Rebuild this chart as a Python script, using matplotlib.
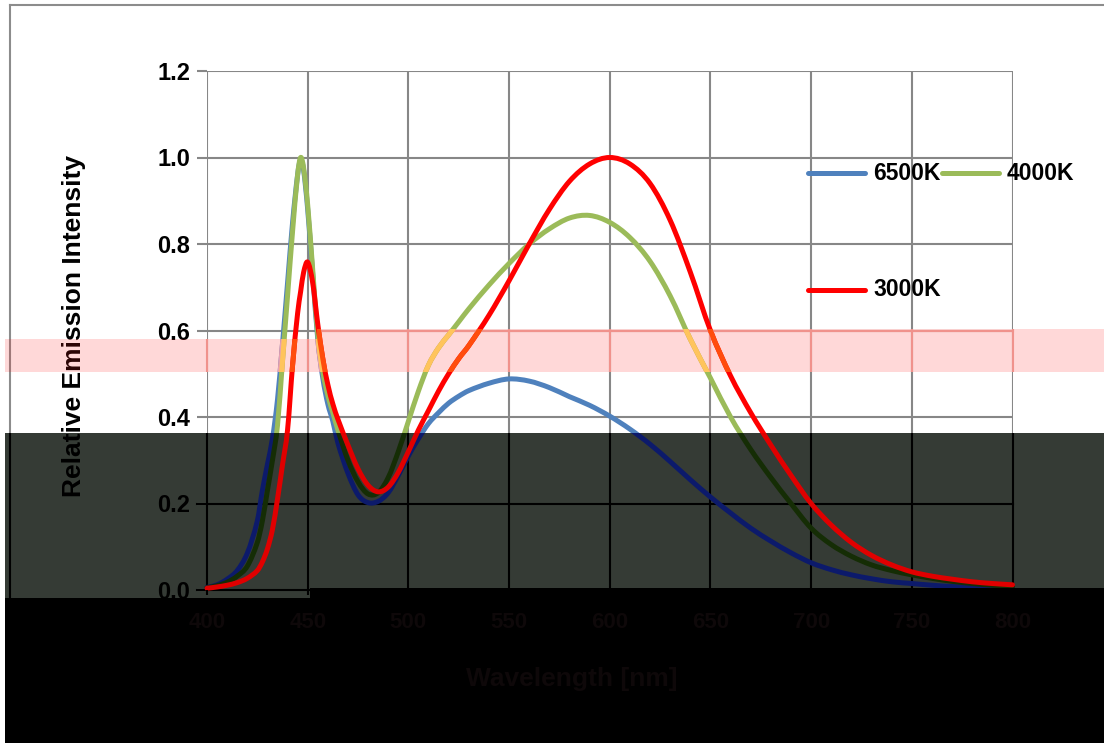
import matplotlib
matplotlib.use("Agg")
import matplotlib.pyplot as plt
from matplotlib.lines import Line2D
from matplotlib.patches import Rectangle, PathPatch
from matplotlib.path import Path
from matplotlib.ticker import FormatStrFormatter
from matplotlib.transforms import Bbox, TransformedBbox

# ---- spectral data (relative emission intensity vs wavelength) ----
wavelength = [400, 405, 410, 415, 420, 425, 427.5, 430, 432.5, 435,
              437.5, 440, 442.5, 445, 446.5, 448, 450, 452.5, 455, 457.5,
              460, 462.5, 465, 470, 475, 480, 485, 490, 495, 500,
              505, 510, 515, 520, 525, 530, 540, 550, 560, 570,
              580, 590, 600, 610, 620, 630, 640, 650, 660, 670,
              680, 690, 700, 710, 720, 730, 740, 750, 760, 770,
              780, 790, 800]

cct_6500 = [0.006, 0.012, 0.025, 0.045, 0.085, 0.16, 0.23, 0.29, 0.35, 0.44,
            0.57, 0.71, 0.85, 0.96, 0.995, 0.97, 0.88, 0.73, 0.58, 0.49,
            0.43, 0.39, 0.34, 0.27, 0.22, 0.202, 0.205, 0.225, 0.265, 0.31,
            0.35, 0.385, 0.41, 0.432, 0.448, 0.461, 0.478, 0.488, 0.483, 0.468,
            0.447, 0.427, 0.402, 0.372, 0.337, 0.297, 0.255, 0.215, 0.178, 0.143,
            0.113, 0.086, 0.063, 0.047, 0.035, 0.026, 0.019, 0.015, 0.011, 0.008,
            0.006, 0.004, 0.003]

cct_4000 = [0.005, 0.01, 0.018, 0.032, 0.055, 0.11, 0.16, 0.23, 0.30, 0.38,
            0.53, 0.68, 0.83, 0.96, 1.0, 0.975, 0.89, 0.74, 0.59, 0.505,
            0.45, 0.41, 0.37, 0.30, 0.25, 0.222, 0.225, 0.26, 0.32, 0.39,
            0.46, 0.52, 0.56, 0.59, 0.62, 0.65, 0.705, 0.755, 0.80, 0.835,
            0.86, 0.866, 0.85, 0.815, 0.76, 0.68, 0.58, 0.49, 0.40, 0.325,
            0.26, 0.20, 0.143, 0.105, 0.078, 0.058, 0.045, 0.035, 0.027, 0.02,
            0.015, 0.011, 0.008]

cct_3000 = [0.004, 0.007, 0.011, 0.017, 0.027, 0.045, 0.065, 0.095, 0.14, 0.21,
            0.29, 0.37, 0.52, 0.64, 0.69, 0.735, 0.758, 0.71, 0.615, 0.535,
            0.475, 0.43, 0.395, 0.335, 0.28, 0.242, 0.227, 0.238, 0.272, 0.32,
            0.37, 0.415, 0.46, 0.50, 0.535, 0.565, 0.635, 0.715, 0.80, 0.88,
            0.945, 0.985, 1.0, 0.985, 0.94, 0.855, 0.735, 0.60, 0.495, 0.41,
            0.335, 0.265, 0.20, 0.15, 0.11, 0.08, 0.058, 0.042, 0.032, 0.025,
            0.019, 0.015, 0.012]

series_names = ["6500K", "4000K", "3000K"]
x_ticks = [400, 450, 500, 550, 600, 650, 700, 750, 800]
y_ticks = [0.0, 0.2, 0.4, 0.6, 0.8, 1.0, 1.2]

# ---- styling ----
W, H = 1104, 743
SANS = ["Liberation Sans", "DejaVu Sans"]
plt.rcParams["font.family"] = SANS
plt.rcParams["font.weight"] = "bold"

line_colors = ["#4f81bd", "#9bbb59", "#ff0000"]
shade_colors = ["#0c1a6b", "#152d05", "#e00000"]     # inside the dark panel
tint_colors = ["#e6a0b4", "#ffc45c", "#ff4d0d"]      # inside the pink band
grid_gray = "#878787"
faint = "#0e0809"
LW = 3.6

fig = plt.figure(figsize=(W / 100, H / 100), dpi=100)
fig.patch.set_facecolor("white")
ax = fig.add_axes([207 / W, 1 - 590 / H, 805.5 / W, 519 / H])
ax.set_xlim(400, 800)
ax.set_ylim(0, 1.2)
ax.set_xticks(x_ticks)
ax.set_yticks(y_ticks)
ax.yaxis.set_major_formatter(FormatStrFormatter("%.1f"))
for sp in ax.spines.values():
    sp.set_visible(False)
ax.set_axisbelow(True)
ax.yaxis.set_zorder(3.5)
ax.xaxis.set_zorder(6)

ax.tick_params(axis="y", direction="out", length=7.2, width=1.5,
               color=grid_gray, pad=5, labelsize=17, labelcolor="black")
ax.tick_params(axis="x", direction="out", length=3.5, width=1.5,
               color="black", pad=12, labelsize=16, labelcolor=faint)

series = [cct_6500, cct_4000, cct_3000]


def smooth_path(xs, ys):
    """Piecewise cubic (Hermite) curve through every data point, as a Bezier path."""
    n = len(xs)
    slopes = []
    for i in range(n):
        a = max(i - 1, 0)
        b = min(i + 1, n - 1)
        slopes.append((ys[b] - ys[a]) / (xs[b] - xs[a]))
    verts = [(xs[0], ys[0])]
    codes = [Path.MOVETO]
    for i in range(n - 1):
        h = xs[i + 1] - xs[i]
        verts += [(xs[i] + h / 3, ys[i] + slopes[i] * h / 3),
                  (xs[i + 1] - h / 3, ys[i + 1] - slopes[i + 1] * h / 3),
                  (xs[i + 1], ys[i + 1])]
        codes += [Path.CURVE4] * 3
    return Path(verts, codes)


def px_box(x0, y0, x1, y1):
    return TransformedBbox(Bbox.from_extents(x0 / W, 1 - y1 / H, x1 / W, 1 - y0 / H),
                           fig.transFigure)


def px_rect(x0, y0, x1, y1, z, **kw):
    r = Rectangle((x0 / W, 1 - y1 / H), (x1 - x0) / W, (y1 - y0) / H,
                  transform=fig.transFigure, zorder=z, linewidth=0, **kw)
    ax.add_artist(r)
    r.set_clip_on(False)
    return r


def add_clipped(artist, box):
    ax.add_artist(artist)
    artist.set_clip_path(None)
    if box is None:
        artist.set_clip_on(False)
    else:
        artist.set_clip_box(box)
    return artist


def grid_lines(color, z, box, lw=1.5):
    ext = -10 / 805.5
    for xv in ax.get_xticks():
        add_clipped(Line2D([xv, xv], [0, 1], transform=ax.get_xaxis_transform(),
                           color=color, lw=lw, zorder=z), box)
    for yv in ax.get_yticks():
        add_clipped(Line2D([ext, 1], [yv, yv], transform=ax.get_yaxis_transform(),
                           color=color, lw=lw, zorder=z), box)


def curves(colors, z, box):
    for vals, c in zip(series, colors):
        patch = PathPatch(smooth_path(wavelength, vals), transform=ax.transData,
                          fill=False, edgecolor=c, lw=LW, zorder=z,
                          capstyle="round", joinstyle="round")
        add_clipped(patch, box)
        z += 0.01


# base layer: grey grid and spectra
for xv in ax.get_xticks():
    ax.axvline(xv, color=grid_gray, lw=1.5, zorder=1)
for yv in ax.get_yticks():
    ax.axhline(yv, color=grid_gray, lw=1.5, zorder=1)
curves(line_colors, 2, None)

# outer chart frame
frame_kw = dict(transform=fig.transFigure, color="#8c8c8c", lw=1.5, zorder=2.9)
add_clipped(Line2D([10 / W, 10 / W], [1 - 5 / H, 0], **frame_kw), None)
add_clipped(Line2D([10 / W, 1], [1 - 5 / H, 1 - 5 / H], **frame_kw), None)

# dark panel over the lower part
dark_box = px_box(5, 433, W, 598)
px_rect(5, 433, W, 598, 3, facecolor="#353b35")
grid_lines("black", 3.6, dark_box)
add_clipped(Line2D([10 / W, 10 / W], [1 - 5 / H, 0], transform=fig.transFigure,
                   color="black", lw=1.5, zorder=3.6), dark_box)
curves(shade_colors, 3.7, dark_box)

# translucent pink band
band_parts = [(5, 339, 317, 372), (317, 329, W, 372)]
for (x0, y0, x1, y1) in band_parts:
    px_rect(x0, y0, x1, y1, 4, facecolor="#ff1a1a", alpha=0.17)
    bbox = px_box(x0, y0, x1, y1)
    grid_lines("#f0928c", 4.1, bbox)
    curves(tint_colors, 4.2, bbox)

# black strip along the bottom
px_rect(5, 598, 310, H, 5, facecolor="black")
px_rect(310, 588, W, H, 5, facecolor="black")

# axis titles
ax.set_xlabel("Wavelength [nm]", fontfamily=SANS, fontweight="bold",
              fontsize=19, color=faint)
ax.xaxis.set_label_coords((572 - 207) / 805.5, -(679 - 590) / 519)
ax.xaxis.label.set_va("center")
ax.set_ylabel("Relative Emission Intensity", fontfamily=SANS,
              fontweight="bold", fontsize=19, color="black")
ax.yaxis.set_label_coords((74 - 207) / 805.5, (590 - 326) / 519)
ax.yaxis.label.set_va("center")

# legend
legend_pos = [(808, 173), (942, 173), (808, 290)]
for name, c, (lx, ly) in zip(series_names, line_colors, legend_pos):
    fig.add_artist(Line2D([lx / W, (lx + 57) / W], [1 - ly / H, 1 - ly / H],
                          transform=fig.transFigure, color=c, lw=LW,
                          solid_capstyle="round", zorder=3))
    fig.text((lx + 65) / W, 1 - ly / H, name, fontsize=16.5, fontweight="bold",
             va="center", ha="left", color="black", zorder=3)

fig.savefig("out.png", dpi=100)
